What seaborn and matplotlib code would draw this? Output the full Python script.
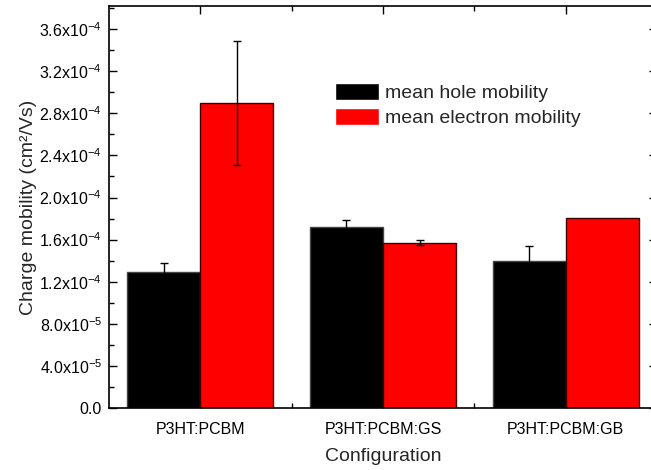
import matplotlib
matplotlib.use("Agg")
import matplotlib.pyplot as plt
import seaborn as sns
import pandas as pd
import numpy as np
from matplotlib.ticker import MultipleLocator, FixedLocator, FuncFormatter

# Mobility data per blend configuration
configurations = ["P3HT:PCBM", "P3HT:PCBM:GS", "P3HT:PCBM:GB"]
hole_mobility = [1.29e-4, 1.717e-4, 1.397e-4]
hole_error = [0.09e-4, 0.067e-4, 0.14e-4]
electron_mobility = [2.90e-4, 1.571e-4, 1.803e-4]
electron_error = [0.59e-4, 0.025e-4, 0.0]
series_names = ["mean hole mobility", "mean electron mobility"]
y_ticks = [0.0, 4.0e-5, 8.0e-5, 1.2e-4, 1.6e-4, 2.0e-4, 2.4e-4, 2.8e-4, 3.2e-4, 3.6e-4]

df = pd.DataFrame({
    "Configuration": configurations * 2,
    "Mobility": hole_mobility + electron_mobility,
    "Error": hole_error + electron_error,
    "Series": [series_names[0]] * 3 + [series_names[1]] * 3,
})

sns.set_style("ticks")
plt.rcParams["font.family"] = ["Liberation Sans", "DejaVu Sans"]
plt.rcParams["mathtext.default"] = "regular"

fig = plt.figure(figsize=(6.51, 4.70), dpi=100)
ax = fig.add_axes([109 / 651, 1 - 408 / 470, (657 - 109) / 651, (408 - 6) / 470])

sns.barplot(data=df, x="Configuration", y="Mobility", hue="Series",
            palette=["#000000", "#ff0000"], saturation=1, errorbar=None,
            width=0.8, gap=0, ax=ax, legend=True)

# Bar outlines and error bars drawn from the same values
edge_colors = ["#444444", "#400000"]
for container, col, vals, errs in zip(ax.containers, edge_colors,
                                      [hole_mobility, electron_mobility],
                                      [hole_error, electron_error]):
    for patch in container:
        patch.set_edgecolor(col)
        patch.set_linewidth(1.0)
    xs = [p.get_x() + p.get_width() / 2 for p in container]
    for x, v, e in zip(xs, vals, errs):
        if e > 0:
            ax.errorbar([x], [v], yerr=[e], fmt="none", ecolor="black",
                        elinewidth=1.0, capsize=3, capthick=1.0, zorder=5)

ax.set_xlim(-0.5, 2.5)
ax.set_ylim(0, 3.82e-4)
ax.yaxis.set_major_locator(FixedLocator(y_ticks))
ax.yaxis.set_minor_locator(MultipleLocator(2e-5))
ax.xaxis.set_minor_locator(FixedLocator([0.5, 1.5]))


def sci_fmt(v, pos):
    if v == 0:
        return "0.0"
    exp = int(np.floor(np.log10(abs(v))))
    mant = v / 10 ** exp
    return f"{mant:.1f}x10$^{{{exp}}}$"


ax.yaxis.set_major_formatter(FuncFormatter(sci_fmt))

for s in ax.spines.values():
    s.set_visible(True)
    s.set_linewidth(1.2)
    s.set_color("black")

ax.tick_params(which="both", direction="in", top=True, right=True,
               colors="black", labelsize=11.5)
ax.tick_params(which="major", length=6, width=1.0)
ax.tick_params(which="minor", length=3.5, width=1.0)
ax.tick_params(axis="x", which="major", pad=10)
ax.tick_params(axis="y", which="major", pad=5)

ax.set_xlabel("Configuration", fontsize=14, labelpad=8)
ax.set_ylabel("Charge mobility (cm²/Vs)", fontsize=14, labelpad=2)

handles, labels = ax.get_legend_handles_labels()
ax.legend(handles, labels, loc="upper left",
          bbox_to_anchor=(335 / 651, 1 - 83 / 470),
          bbox_transform=fig.transFigure, frameon=False, fontsize=14,
          handlelength=2.27, handleheight=1.0, handletextpad=0.3,
          labelspacing=0.28, borderpad=0, borderaxespad=0)

fig.savefig("out.png", dpi=100)
